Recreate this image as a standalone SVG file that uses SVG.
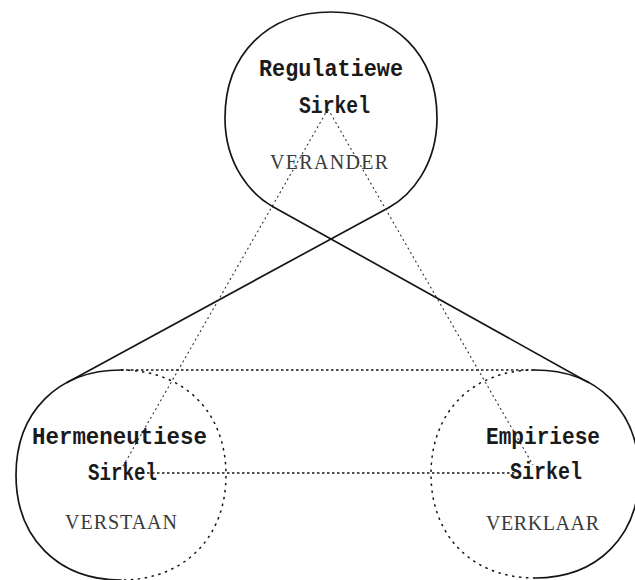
<svg xmlns="http://www.w3.org/2000/svg" width="635" height="580" viewBox="0 0 635 580">
<style>
.solid{fill:none;stroke:#161616;stroke-width:1.7;stroke-linecap:round;stroke-linejoin:round}
.dotc{fill:none;stroke:#161616;stroke-width:1.5;stroke-dasharray:2.5 4.5}
.doth{fill:none;stroke:#161616;stroke-width:1.6;stroke-dasharray:2.5 2.5}
.dotd{fill:none;stroke:#333;stroke-width:1.1;stroke-dasharray:2 3}
.title{font-family:"Liberation Mono","DejaVu Sans Mono",monospace;font-weight:bold;font-size:23px;fill:#1a1a1a}
.sub{font-family:"Liberation Serif","DejaVu Serif",serif;font-size:20px;fill:#3a3a3a}
</style>
<rect width="635" height="580" fill="#fff"/>
<g id="connectors">
  <path class="solid" d="M67.1,382.5 L389,207.4"/>
  <path class="solid" d="M273,206.7 L588.4,382.4"/>
  <path class="doth" d="M121,370 L535,370"/>
  <path class="doth" d="M147,473 L516,473"/>
  <path class="dotd" d="M328,109 L122,468"/>
  <path class="dotd" d="M328,109 L533,465"/>
</g>
<g id="node-regulatiewe">
  <path class="solid" d="M389,207.4 C411,195.5 437,165 437,118 C437,54.4 394.6,12 331,12 C267.4,12 225,54.4 225,118 C225,165 251.2,194.5 273,206.7"/>
  <text class="title" x="259" y="76" textLength="144" lengthAdjust="spacingAndGlyphs">Regulatiewe</text>
  <text class="title" x="299" y="113" textLength="71" lengthAdjust="spacingAndGlyphs">Sirkel</text>
  <text class="sub" x="270" y="169" textLength="118" lengthAdjust="spacing">VERANDER</text>
</g>
<g id="node-hermeneutiese">
  <path class="solid" d="M121,370 C58,370 16,412 16,475 C16,538 58,580 121,580"/>
  <path class="dotc" d="M121,370 C184,370 226,412 226,475 C226,538 184,580 121,580"/>
  <text class="title" x="32" y="444" textLength="175" lengthAdjust="spacingAndGlyphs">Hermeneutiese</text>
  <text class="title" x="88" y="480" textLength="69" lengthAdjust="spacingAndGlyphs">Sirkel</text>
  <text class="sub" x="65" y="529" textLength="112" lengthAdjust="spacing">VERSTAAN</text>
</g>
<g id="node-empiriese">
  <path class="solid" d="M535,370 C597.4,370 639,411.6 639,474 C639,536.4 597.4,578 535,578"/>
  <path class="dotc" d="M535,370 C472.6,370 431,411.6 431,474 C431,536.4 472.6,578 535,578"/>
  <text class="title" x="486" y="444" textLength="114" lengthAdjust="spacingAndGlyphs">Empiriese</text>
  <text class="title" x="510" y="479" textLength="72" lengthAdjust="spacingAndGlyphs">Sirkel</text>
  <text class="sub" x="486" y="530" textLength="113" lengthAdjust="spacing">VERKLAAR</text>
</g>
</svg>
